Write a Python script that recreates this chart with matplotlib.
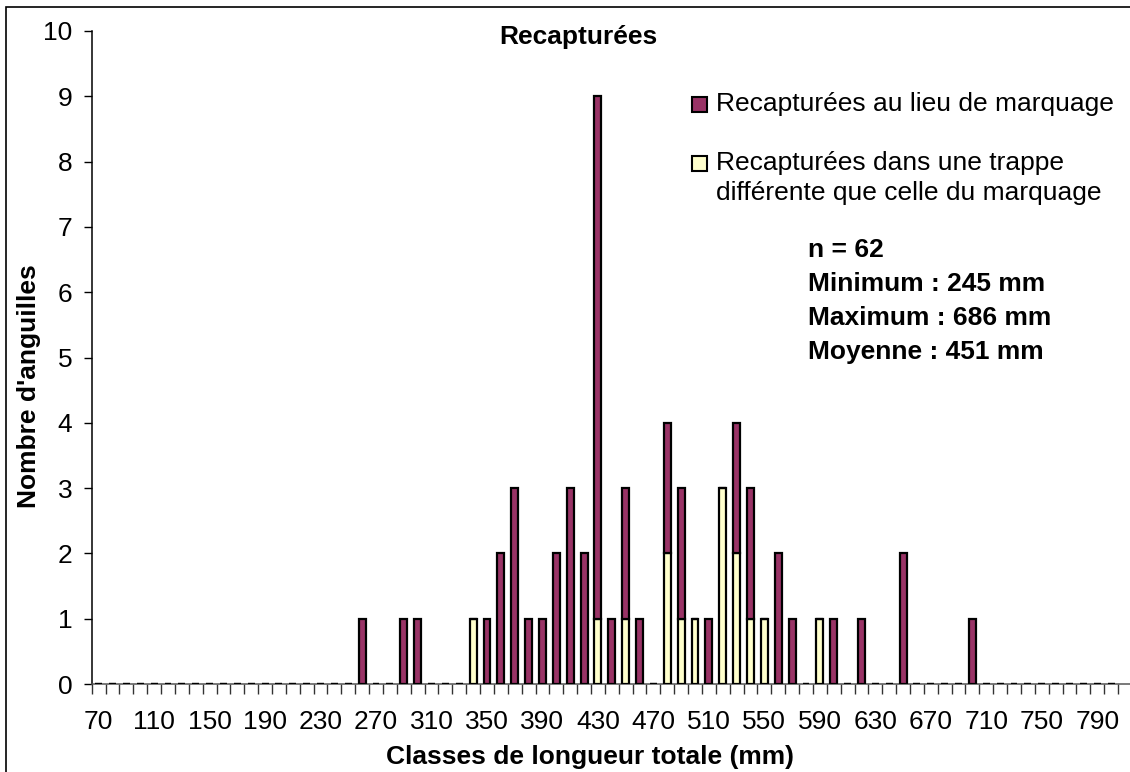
import matplotlib
matplotlib.use("Agg")
import matplotlib.pyplot as plt
from matplotlib.patches import Rectangle

plt.rcParams["font.family"] = ["Liberation Sans", "DejaVu Sans"]

# classes de longueur totale (mm)
classes = list(range(70, 810, 10))
tick_labels = [str(c) for c in range(70, 800, 40)]

# recapturées au lieu de marquage
lieu = [0, 0, 0, 0, 0, 0, 0, 0, 0, 0,
        0, 0, 0, 0, 0, 0, 0, 0, 0, 1,
        0, 0, 1, 1, 0, 0, 0, 0, 1, 2,
        3, 1, 1, 2, 3, 2, 8, 1, 2, 1,
        0, 2, 2, 0, 1, 0, 2, 2, 0, 2,
        1, 0, 0, 1, 0, 1, 0, 0, 2, 0,
        0, 0, 0, 1, 0, 0, 0, 0, 0, 0,
        0, 0, 0, 0]
# recapturées dans une autre trappe
trappe = [0, 0, 0, 0, 0, 0, 0, 0, 0, 0,
          0, 0, 0, 0, 0, 0, 0, 0, 0, 0,
          0, 0, 0, 0, 0, 0, 0, 1, 0, 0,
          0, 0, 0, 0, 0, 0, 1, 0, 1, 0,
          0, 2, 1, 1, 0, 3, 2, 1, 1, 0,
          0, 0, 1, 0, 0, 0, 0, 0, 0, 0,
          0, 0, 0, 0, 0, 0, 0, 0, 0, 0,
          0, 0, 0, 0]

stats = ["n = 62", "Minimum : 245 mm", "Maximum : 686 mm", "Moyenne : 451 mm"]

PURPLE = "#993366"
YELLOW = "#FFFFCC"
FS = 19

W, H = 1130, 772
fig = plt.figure(figsize=(W / 100, H / 100), dpi=100)
fig.patch.set_facecolor("white")

# cadre de la zone graphique
fig.add_artist(Rectangle((6 / W, -0.05), 1.2, (H - 7) / H + 0.05, transform=fig.transFigure,
                         fill=False, edgecolor="black", linewidth=1.2))

x0, x1 = 91.7, 1131.9
y0, y1 = 684, 31
ax = fig.add_axes([x0 / W, (H - y0) / H, (x1 - x0) / W, (y0 - y1) / H])
ax.set_facecolor("none")

pos = list(range(len(classes)))
ax.bar(pos, trappe, width=0.5, color=YELLOW, edgecolor="black", linewidth=1.6, zorder=3)
ax.bar(pos, lieu, width=0.5, bottom=trappe, color=PURPLE, edgecolor="black", linewidth=1.6,
       zorder=3)

ax.set_xlim(-0.5, len(classes) + 0.5)
ax.set_ylim(0, 10)
ax.set_yticks(range(0, 11))
ax.tick_params(axis="y", direction="out", length=6, width=1, labelsize=FS, pad=8)

# ticks aux limites des classes, étiquettes toutes les 4 classes
ax.set_xticks([i - 0.5 for i in range(len(classes) + 2)])
ax.set_xticklabels([])
ax.set_xticks([pos[i] for i in range(0, len(classes), 4)][:len(tick_labels)], minor=True)
ax.set_xticklabels(tick_labels, minor=True)
ax.tick_params(axis="x", which="major", direction="out", length=7, width=1, color="#333333")
ax.tick_params(axis="x", which="minor", length=0, labelsize=FS, pad=19)

for s in ("top", "right"):
    ax.spines[s].set_visible(False)
ax.spines["left"].set_linewidth(1.1)
ax.spines["bottom"].set_color("#555555")
ax.spines["bottom"].set_linewidth(1.1)

fig.text(578 / W, 1 - 37 / H, "Recapturées", ha="center", va="center", fontsize=FS,
         fontweight="bold")
fig.text(590 / W, 1 - 757 / H, "Classes de longueur totale (mm)", ha="center", va="center",
         fontsize=FS, fontweight="bold")
fig.text(29 / W, 1 - 386 / H, "Nombre d'anguilles", ha="center", va="center", rotation=90,
         fontsize=FS, fontweight="bold")

# légende
legend = [(PURPLE, 97, "Recapturées au lieu de marquage", 104),
          (YELLOW, 156, "Recapturées dans une trappe\ndifférente que celle du marquage", 178)]
for color, ytop, label, ytxt in legend:
    fig.add_artist(Rectangle((692 / W, 1 - (ytop + 15) / H), 15 / W, 15 / H,
                             transform=fig.transFigure, facecolor=color, edgecolor="black",
                             linewidth=1.5))
    fig.text(716 / W, 1 - ytxt / H, label, ha="left", va="center", fontsize=FS,
             linespacing=1.3)

for k, line in enumerate(stats):
    fig.text(808 / W, 1 - (250 + 34 * k) / H, line, ha="left", va="center", fontsize=FS,
             fontweight="bold")

fig.savefig("out.png", dpi=100, facecolor="white")
